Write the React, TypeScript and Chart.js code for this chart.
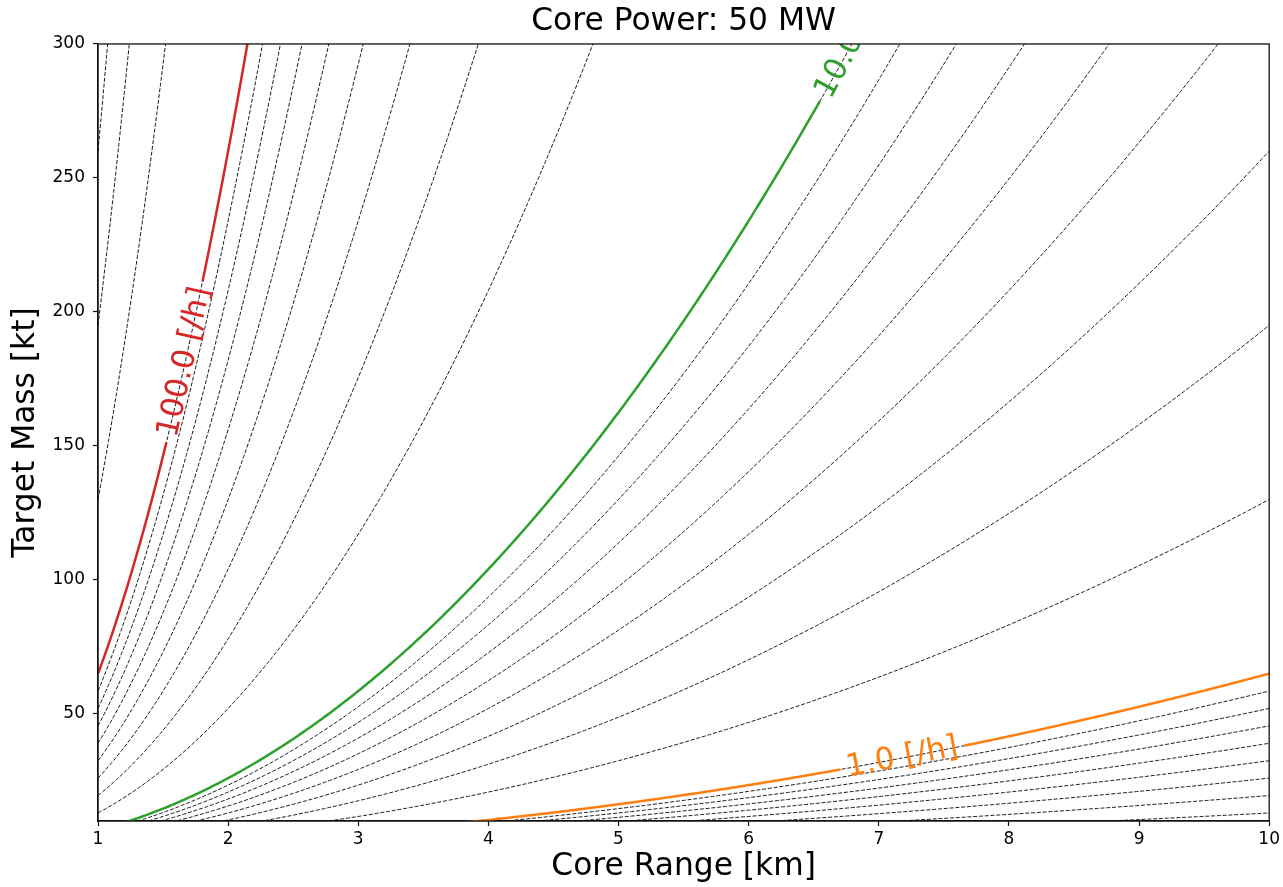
import React, { useEffect, useRef } from 'react';
import { Chart, registerables } from 'chart.js';

Chart.register(...registerables);

// ---- text ----
const chartTitle = 'Core Power: 50 MW';
const xAxisTitle = 'Core Range [km]';
const yAxisTitle = 'Target Mass [kt]';

// ---- contour levels (rate, /h) ----
const fineLevels = [0.1, 0.2, 0.3, 0.4, 0.5, 0.6, 0.7, 0.8, 0.9];
const unitLevels = [1, 2, 3, 4, 5, 6, 7, 8, 9];
const tenLevels = [10, 20, 30, 40, 50, 60, 70, 80, 90];
const hundredLevels = [100, 200, 300, 400, 500, 600, 700, 800, 900];

// highlighted (labelled) contours
const highlightLevels = [100, 10, 1];
const highlightColors = ['#d62728', '#2ca02c', '#ff7f0e'];
const highlightLabels = ['100.0 [/h]', '10.0 [/h]', '1.0 [/h]'];
const labelRanges = [1.67, 6.82, 7.18]; // km, where the inline labels sit

// mass needed per unit rate per km² (read: rate 100 meets 65 kt at 1 km)
const massPerRate = 0.65;

// evaluation grid for the core range (km)
const rangeGrid = Array.from({ length: 451 }, (_, i) => 1 + i * 0.02);

// axes
const xMin = 1;
const xMax = 10;
const yMin = 10;
const yMax = 300;
const xTicks = [1, 2, 3, 4, 5, 6, 7, 8, 9, 10];
const yTicks = [50, 100, 150, 200, 250, 300];

const FONT = "'DejaVu Sans', 'Liberation Sans', sans-serif";
const BIG = 31.3;
const LABEL_FONT_SIZE = 31;
const LABEL_SPACING = 6;

const massAt = (level: number, r: number) => massPerRate * level * r * r;
const curve = (level: number) => rangeGrid.map((r) => ({ x: r, y: massAt(level, r) }));

const allLevels = [...fineLevels, ...unitLevels, ...tenLevels, ...hundredLevels];

function labelGeometry(chart: any, i: number) {
  const xs = chart.scales.x;
  const ys = chart.scales.y;
  const lvl = highlightLevels[i];
  const r = labelRanges[i];
  const cx = xs.getPixelForValue(r);
  const cy = ys.getPixelForValue(massAt(lvl, r));
  const ax = xs.getPixelForValue(r - 0.01);
  const ay = ys.getPixelForValue(massAt(lvl, r - 0.01));
  const bx = xs.getPixelForValue(r + 0.01);
  const by = ys.getPixelForValue(massAt(lvl, r + 0.01));
  const angle = Math.atan2(by - ay, bx - ax);
  const ctx = chart.ctx;
  ctx.save();
  ctx.font = `${LABEL_FONT_SIZE}px ${FONT}`;
  const w = ctx.measureText(highlightLabels[i]).width;
  ctx.restore();
  return { cx, cy, angle, w };
}

const contourLabelPlugin = {
  id: 'contourLabels',
  beforeDatasetDraw(chart: any, args: any) {
    const ds = chart.data.datasets[args.index];
    const i = ds.labelIndex;
    if (i === undefined) return;
    const { cx, cy, angle, w } = labelGeometry(chart, i);
    const half = w / 2 + LABEL_SPACING;
    const hh = 20;
    const c = Math.cos(angle);
    const s = Math.sin(angle);
    const pts = [
      [-half, -hh],
      [half, -hh],
      [half, hh],
      [-half, hh],
    ].map(([u, v]) => [cx + u * c - v * s, cy + u * s + v * c]);
    const ctx = chart.ctx;
    ctx.save();
    ctx.beginPath();
    ctx.rect(0, 0, chart.width, chart.height);
    ctx.moveTo(pts[0][0], pts[0][1]);
    for (let k = 1; k < 4; k++) ctx.lineTo(pts[k][0], pts[k][1]);
    ctx.closePath();
    ctx.clip('evenodd');
  },
  afterDatasetDraw(chart: any, args: any) {
    const ds = chart.data.datasets[args.index];
    if (ds.labelIndex === undefined) return;
    chart.ctx.restore();
  },
  afterDatasetsDraw(chart: any) {
    const ctx = chart.ctx;
    const a = chart.chartArea;
    ctx.save();
    ctx.beginPath();
    ctx.rect(a.left, a.top, a.right - a.left, a.bottom - a.top);
    ctx.clip();
    highlightLevels.forEach((_, i) => {
      const { cx, cy, angle } = labelGeometry(chart, i);
      ctx.save();
      ctx.translate(cx, cy);
      ctx.rotate(angle);
      ctx.font = `${LABEL_FONT_SIZE}px ${FONT}`;
      ctx.fillStyle = highlightColors[i];
      ctx.textAlign = 'center';
      ctx.textBaseline = 'middle';
      ctx.fillText(highlightLabels[i], 0, 0);
      ctx.restore();
    });
    ctx.restore();
  },
  afterDraw(chart: any) {
    const ctx = chart.ctx;
    const a = chart.chartArea;
    ctx.save();
    ctx.strokeStyle = '#111';
    ctx.lineWidth = 1.3;
    ctx.strokeRect(a.left, a.top, a.right - a.left, a.bottom - a.top);
    ctx.restore();
  },
};

export default function App() {
  const ref = useRef<HTMLCanvasElement>(null);

  useEffect(() => {
    if (!ref.current) return;

    const blackSets = allLevels.map((lvl) => ({
      label: `${lvl}`,
      data: curve(lvl),
      borderColor: '#000',
      borderWidth: 0.9,
      borderDash: [4, 1.8],
      pointRadius: 0,
      fill: false,
      tension: 0,
      clip: 0,
      order: 1,
    }));

    const colorSets = highlightLevels.map((lvl, i) => ({
      label: highlightLabels[i],
      labelIndex: i,
      data: curve(lvl),
      borderColor: highlightColors[i],
      borderWidth: 2.5,
      pointRadius: 0,
      fill: false,
      tension: 0,
      clip: 0,
      order: 0,
    }));

    const chart = new Chart(ref.current, {
      type: 'line',
      data: { datasets: [...colorSets, ...blackSets] as any },
      options: {
        animation: false,
        responsive: false,
        devicePixelRatio: 1,
        layout: { padding: { left: 0, right: 12, top: 0, bottom: 0 } },
        plugins: {
          legend: { display: false },
          tooltip: { enabled: false },
          title: {
            display: true,
            fullSize: false,
            text: chartTitle,
            color: '#000',
            font: { family: FONT, size: BIG, weight: 'normal', lineHeight: 1.2 },
            padding: { top: 3, bottom: 3.4 },
          },
        },
        scales: {
          x: {
            type: 'linear',
            min: xMin,
            max: xMax,
            afterBuildTicks: (scale: any) => {
              scale.ticks = xTicks.map((v) => ({ value: v }));
            },
            afterFit: (scale: any) => {
              scale.height = 66;
            },
            ticks: {
              color: '#000',
              font: { family: FONT, size: 17 },
              padding: 3,
              maxRotation: 0,
              autoSkip: false,
              callback: (v: any) => `${v}`,
            },
            grid: {
              display: true,
              drawOnChartArea: false,
              drawTicks: true,
              tickLength: 5,
              tickColor: '#111',
              tickWidth: 1.2,
            },
            border: { display: true, color: '#111', width: 1.3 },
            title: {
              display: true,
              text: xAxisTitle,
              color: '#000',
              font: { family: FONT, size: BIG, lineHeight: 1.2 },
              padding: { top: 0, bottom: 1 },
            },
          },
          y: {
            type: 'linear',
            min: yMin,
            max: yMax,
            afterBuildTicks: (scale: any) => {
              scale.ticks = yTicks.map((v) => ({ value: v }));
            },
            afterFit: (scale: any) => {
              scale.width = 98;
            },
            ticks: {
              color: '#000',
              font: { family: FONT, size: 17 },
              padding: 8,
              autoSkip: false,
              callback: (v: any) => `${v}`,
            },
            grid: {
              display: true,
              drawOnChartArea: false,
              drawTicks: true,
              tickLength: 5,
              tickColor: '#111',
              tickWidth: 1.2,
            },
            border: { display: true, color: '#111', width: 1.3 },
            title: {
              display: true,
              text: yAxisTitle,
              color: '#000',
              font: { family: FONT, size: BIG, lineHeight: 1.2 },
              padding: { top: 7.5, bottom: 0 },
            },
          },
        },
      } as any,
      plugins: [contourLabelPlugin],
    });

    return () => chart.destroy();
  }, []);

  return (
    <div style={{ position: 'absolute', left: 0, top: 0, width: 1283, height: 887, background: '#fff' }}>
      <canvas ref={ref} width={1283} height={887} style={{ display: 'block', width: 1283, height: 887 }} />
    </div>
  );
}
